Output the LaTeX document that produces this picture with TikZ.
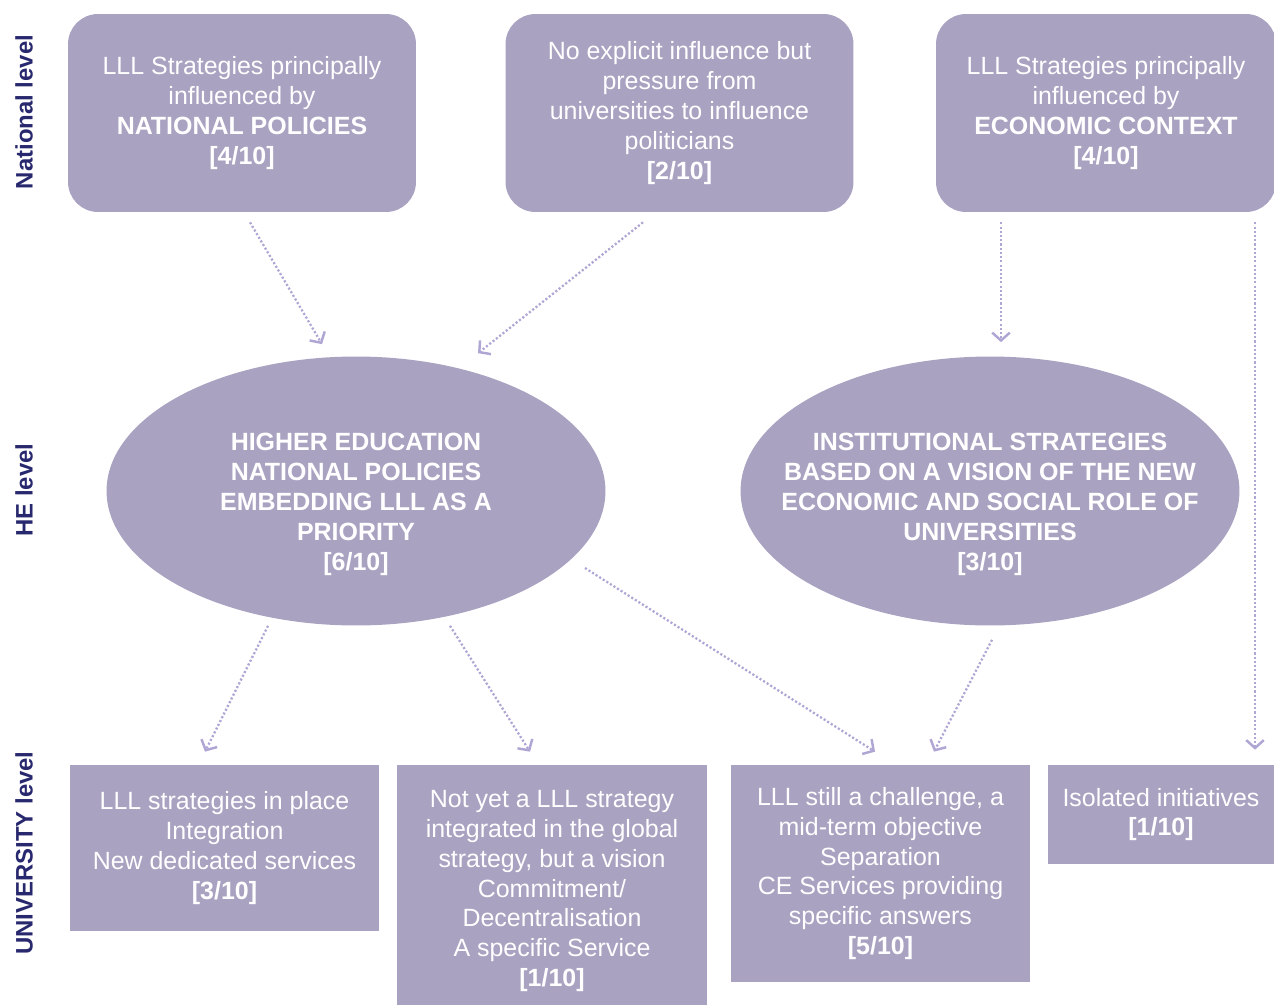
\documentclass[tikz,border=0pt]{standalone}
\usepackage{fontspec}
\setmainfont{Liberation Sans}
\usepackage{tikz}
\usetikzlibrary{calc,arrows.meta,shapes.geometric}
\definecolor{mylavender}{RGB}{169,162,193}
\definecolor{mylilac}{RGB}{176,166,212}
\definecolor{mynavy}{RGB}{40,40,110}
\tikzstyle{boxtext}=[text=white,align=center,font=\fontsize{14.2}{17}\selectfont]
\tikzstyle{natbox}=[boxtext,fill=mylavender,rounded corners=0.6cm,minimum width=6.96cm,minimum height=3.96cm]
\tikzstyle{hebubble}=[fill=mylavender,ellipse,minimum width=9.98cm,minimum height=5.38cm,inner sep=0pt]
\tikzstyle{hetext}=[boxtext,font=\fontsize{14.2}{17}\selectfont\bfseries,yshift=-0.27cm]
\tikzstyle{unibox}=[boxtext,fill=mylavender,inner sep=0pt]
\tikzstyle{levellabel}=[rotate=90,text=mynavy,font=\fontsize{13.6}{16}\selectfont\bfseries]
\tikzstyle{flow}=[mylilac,line width=1.3pt,dash pattern=on 1.2pt off 1.2pt,-{Straight Barb[length=4.5pt,width=10pt,line width=1.4pt]}]

\begin{document}
\begin{tikzpicture}[x=0.02cm,y=-0.02cm]
\useasboundingbox (0,0) rectangle (1274,1004);

% levels
\node[levellabel] (natlevel) at (24,112) {National level};
\node[levellabel] (helevel) at (24,490) {HE level};
\node[levellabel] (unilevel) at (24,853) {UNIVERSITY level};

% national level
\node[natbox] (polnat) at (242,113) {LLL Strategies principally\\influenced by\\\textbf{NATIONAL POLICIES}\\\textbf{[4/10]}};
\node[natbox] (unipress) at (679.5,113) {No explicit influence but\\pressure from\\universities to influence\\politicians\\\textbf{[2/10]}};
\node[natbox,minimum width=6.8cm] (econ) at (1106,113) {LLL Strategies principally\\influenced by\\\textbf{ECONOMIC CONTEXT}\\\textbf{[4/10]}};

% HE level
\node[hebubble,label={[hetext]center:{HIGHER EDUCATION\\NATIONAL POLICIES\\EMBEDDING LLL AS A\\PRIORITY\\{[6/10]}}}] (hepol) at (356,491) {};
\node[hebubble,label={[hetext]center:{INSTITUTIONAL STRATEGIES\\BASED ON A VISION OF THE NEW\\ECONOMIC AND SOCIAL ROLE OF\\UNIVERSITIES\\{[3/10]}}}] (inststrat) at (990,491) {};

% university level
\node[unibox,minimum width=6.18cm,minimum height=3.32cm] (inplace) at (224.5,848) {LLL strategies in place\\Integration\\New dedicated services\\\textbf{[3/10]}};
\node[unibox,minimum width=6.2cm,minimum height=5.04cm] (notyet) at (552,891) {Not yet a LLL strategy\\integrated in the global\\strategy, but a vision\\Commitment/\\Decentralisation\\A specific Service\\\textbf{[1/10]}};
\node[unibox,minimum width=5.98cm,minimum height=4.34cm] (challenge) at (880.5,873.5) {LLL still a challenge, a\\mid-term objective\\Separation\\CE Services providing\\specific answers\\\textbf{[5/10]}};
\node[unibox,minimum width=4.52cm,minimum height=1.98cm] (isolated) at (1161,814.5) {Isolated initiatives\\\textbf{[1/10]}};

% influences
\draw[flow] ($(polnat.south)+(8,10)$) -- ($(hepol.north)+(-34,-12)$);
\draw[flow] ($(unipress.south)+(-36.5,10)$) -- ($(hepol.north)+(122,-3)$);
\draw[flow] ($(econ.south)+(-105,10)$) -- ($(inststrat.north)+(11,-14)$);
\draw[flow] ($(econ.south)+(149,10)$) -- ($(isolated.north)+(94,-15)$);
\draw[flow] ($(hepol.south)+(-88,0)$) -- ($(inplace.north)+(-19.5,-13)$);
\draw[flow] ($(hepol.south)+(94,0)$) -- ($(notyet.north)+(-22,-13)$);
\draw[flow] ($(hepol.center)+(229,77)$) -- ($(challenge.north)+(-5.5,-13)$);
\draw[flow] ($(inststrat.south)+(2,14)$) -- ($(challenge.north)+(53.5,-13)$);
\end{tikzpicture}
\end{document}
